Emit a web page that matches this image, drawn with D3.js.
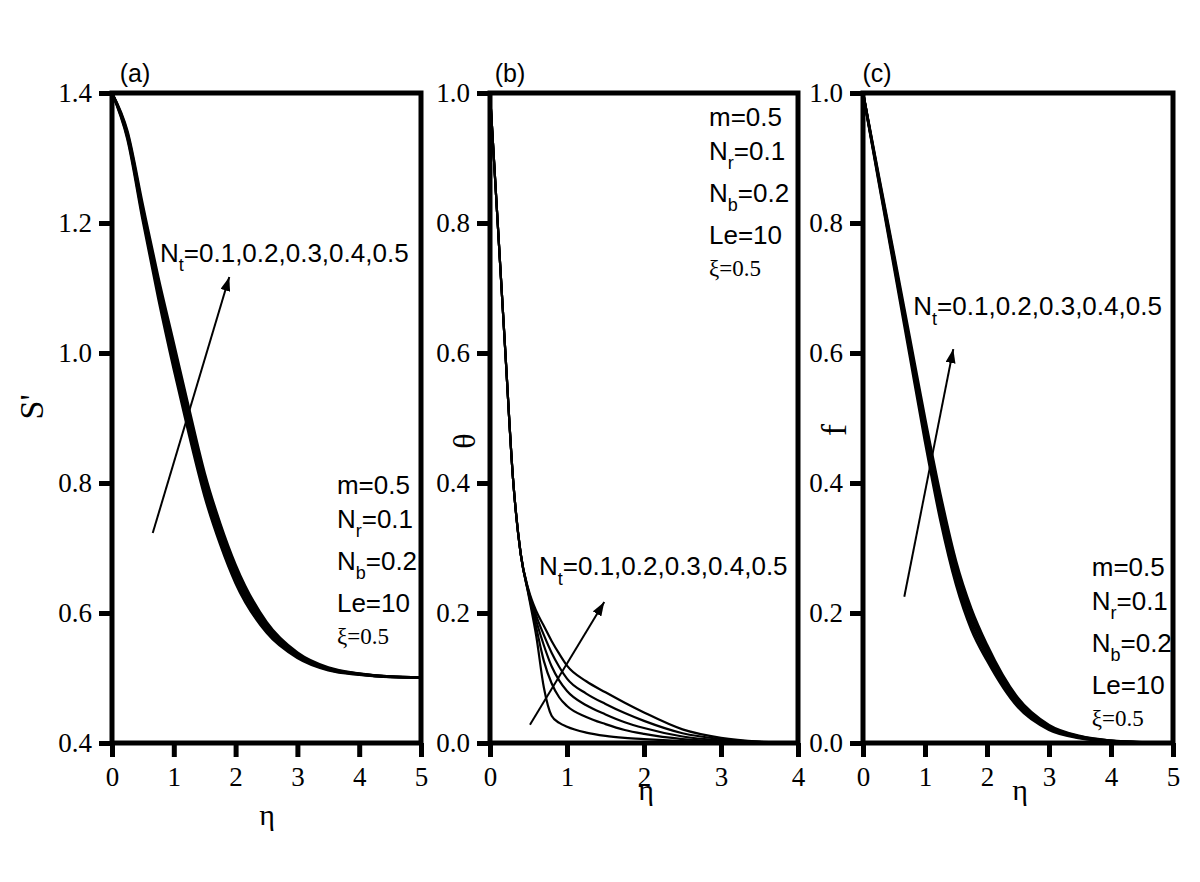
<!DOCTYPE html>
<html>
<head>
<meta charset="utf-8">
<script src="https://cdn.jsdelivr.net/npm/d3@7"></script>
<style>
  html, body { margin: 0; padding: 0; background: #fff; }
  svg { display: block; }
  .frame { fill: none; stroke: #000; stroke-width: 5; }
  .curve { fill: none; stroke: #000; }
  .serif { font-family: 'Liberation Serif', 'Times New Roman', serif; fill: #000; }
  .sans { font-family: 'Liberation Sans', Arial, sans-serif; fill: #000; }
  .pointer { stroke: #000; stroke-width: 2; }
</style>
</head>
<body>
<svg id="chart" width="1200" height="882"></svg>
<script>
// panel (a): S' against eta, one curve per Nt
const etaA = [0, 0.25, 0.5, 0.75, 1, 1.25, 1.5, 1.75, 2, 2.5, 3, 3.5, 4, 4.5, 5];
const sPrimeNt01 = [1.400, 1.329, 1.203, 1.084, 0.975, 0.873, 0.779, 0.706, 0.646, 0.570, 0.531, 0.512, 0.5050, 0.5016, 0.501];
const sPrimeNt02 = [1.400, 1.332, 1.209, 1.092, 0.985, 0.883, 0.788, 0.714, 0.653, 0.574, 0.533, 0.513, 0.5055, 0.5018, 0.501];
const sPrimeNt03 = [1.400, 1.335, 1.215, 1.100, 0.995, 0.893, 0.797, 0.722, 0.660, 0.578, 0.535, 0.514, 0.5060, 0.5020, 0.501];
const sPrimeNt04 = [1.400, 1.338, 1.221, 1.108, 1.005, 0.903, 0.806, 0.730, 0.667, 0.582, 0.537, 0.515, 0.5065, 0.5022, 0.501];
const sPrimeNt05 = [1.400, 1.341, 1.227, 1.116, 1.015, 0.913, 0.815, 0.738, 0.674, 0.586, 0.539, 0.516, 0.5070, 0.5024, 0.501];

// panel (b): theta against eta
const etaB = [0, 0.1, 0.2, 0.3, 0.4, 0.5, 0.6, 0.7, 0.8, 0.9, 1.0, 1.25, 1.5, 1.75, 2.0, 2.5, 3.0, 3.5, 4.0];
const thetaNt01 = [1, 0.80, 0.60, 0.405, 0.290, 0.228, 0.165, 0.085, 0.042, 0.031, 0.025, 0.016, 0.011, 0.008, 0.006, 0.003, 0.0013, 0.0004, 0];
const thetaNt02 = [1, 0.80, 0.60, 0.405, 0.290, 0.230, 0.178, 0.126, 0.092, 0.070, 0.057, 0.040, 0.029, 0.020, 0.014, 0.006, 0.0025, 0.0008, 0];
const thetaNt03 = [1, 0.80, 0.60, 0.405, 0.290, 0.232, 0.188, 0.150, 0.118, 0.096, 0.080, 0.058, 0.044, 0.032, 0.023, 0.010, 0.004, 0.0012, 0];
const thetaNt04 = [1, 0.80, 0.60, 0.405, 0.290, 0.234, 0.196, 0.166, 0.139, 0.117, 0.099, 0.076, 0.060, 0.046, 0.034, 0.015, 0.006, 0.0016, 0];
const thetaNt05 = [1, 0.80, 0.60, 0.405, 0.290, 0.236, 0.203, 0.180, 0.157, 0.137, 0.119, 0.095, 0.078, 0.062, 0.047, 0.021, 0.008, 0.002, 0];

// panel (c): f against eta
const etaC = [0, 0.25, 0.5, 0.75, 1, 1.25, 1.5, 1.75, 2, 2.5, 3, 3.5, 4, 4.5, 5];
const fNt01 = [1.0, 0.8650, 0.732, 0.598, 0.464, 0.342, 0.244, 0.174, 0.127, 0.0550, 0.0204, 0.0074, 0.0024, 0.0010, 0.0003];
const fNt02 = [1.0, 0.8675, 0.737, 0.605, 0.473, 0.352, 0.253, 0.182, 0.133, 0.0585, 0.0222, 0.0082, 0.0027, 0.0010, 0.0003];
const fNt03 = [1.0, 0.8700, 0.742, 0.612, 0.482, 0.362, 0.262, 0.190, 0.139, 0.0620, 0.0240, 0.0090, 0.0030, 0.0010, 0.0003];
const fNt04 = [1.0, 0.8725, 0.747, 0.619, 0.491, 0.372, 0.271, 0.198, 0.145, 0.0655, 0.0258, 0.0098, 0.0033, 0.0010, 0.0003];
const fNt05 = [1.0, 0.8750, 0.752, 0.626, 0.500, 0.382, 0.280, 0.206, 0.151, 0.0690, 0.0276, 0.0106, 0.0036, 0.0010, 0.0003];

// ticks
const yTicksA = [0.4, 0.6, 0.8, 1.0, 1.2, 1.4];
const yTicksBC = [0.0, 0.2, 0.4, 0.6, 0.8, 1.0];
const xTicksA = [0, 1, 2, 3, 4, 5];
const xTicksB = [0, 1, 2, 3, 4];
const xTicksC = [0, 1, 2, 3, 4, 5];

// annotation text
const ntLabel = '=0.1,0.2,0.3,0.4,0.5';
const paramLines = [
  { main: 'm', sub: '', rest: '=0.5' },
  { main: 'N', sub: 'r', rest: '=0.1' },
  { main: 'N', sub: 'b', rest: '=0.2' },
  { main: 'Le', sub: '', rest: '=10' },
];
const xiLabel = 'ξ=0.5';

const TOP = 93;
const BOTTOM = 743;
const PARAM_OFFSETS = [0, 34, 76, 118, 150];
const SERIF = "'Liberation Serif', 'Times New Roman', serif";

const panels = [
  {
    tag: '(a)', tagX: 135, left: 112, right: 421,
    xDomain: [0, 5], yDomain: [0.4, 1.4], xTicks: xTicksA, yTicks: yTicksA,
    eta: etaA, series: [sPrimeNt01, sPrimeNt02, sPrimeNt03, sPrimeNt04, sPrimeNt05],
    curveWidth: 2.6,
    yTitle: "S'", yTitleX: 43, yTitleY: 407, yTitleSize: 34,
    etaX: 267, etaY: 825,
    ntAt: [0.777, 1.140], arrow: [[0.659, 0.723], [1.898, 1.117]],
    paramsAt: [3.64, 0.783],
  },
  {
    tag: '(b)', tagX: 510, left: 490, right: 798,
    xDomain: [0, 4], yDomain: [0, 1], xTicks: xTicksB, yTicks: yTicksBC,
    eta: etaB, series: [thetaNt01, thetaNt02, thetaNt03, thetaNt04, thetaNt05],
    curveWidth: 2.2,
    yTitle: 'θ', yTitleX: 475, yTitleY: 441, yTitleSize: 32,
    etaX: 646, etaY: 800,
    ntAt: [0.636, 0.258], arrow: [[0.519, 0.028], [1.484, 0.217]],
    paramsAt: [2.844, 0.950],
  },
  {
    tag: '(c)', tagX: 877, left: 863, right: 1173,
    xDomain: [0, 5], yDomain: [0, 1], xTicks: xTicksC, yTicks: yTicksBC,
    eta: etaC, series: [fNt01, fNt02, fNt03, fNt04, fNt05],
    curveWidth: 2.6,
    yTitle: 'f', yTitleX: 846, yTitleY: 430, yTitleSize: 36,
    etaX: 1020, etaY: 800,
    ntAt: [0.811, 0.658], arrow: [[0.666, 0.225], [1.456, 0.606]],
    paramsAt: [3.689, 0.257],
  },
];

const svg = d3.select('#chart');

svg.append('rect')
  .attr('width', 1200)
  .attr('height', 882)
  .attr('fill', '#fff');

svg.append('defs')
  .append('marker')
  .attr('id', 'head')
  .attr('markerUnits', 'userSpaceOnUse')
  .attr('viewBox', '0 0 14 10')
  .attr('refX', 14)
  .attr('refY', 5)
  .attr('markerWidth', 14)
  .attr('markerHeight', 10)
  .attr('orient', 'auto')
  .append('path')
  .attr('d', 'M0,0 L14,5 L0,10 Z')
  .attr('fill', '#000');

// text with a subscript after the main part
const subText = (sel, main, sub, rest, size, subSize) => {
  sel.append('tspan').text(main);
  if (sub) {
    sel.append('tspan')
      .attr('font-size', subSize)
      .attr('dy', size * 0.36)
      .text(sub);
    sel.append('tspan')
      .attr('dy', -size * 0.36)
      .text(rest);
  } else {
    sel.append('tspan').text(rest);
  }
};

// thick ticks, serif labels, no domain line
const styleAxis = (a) => {
  a.attr('font-family', SERIF).attr('font-size', 27);
  a.select('.domain').remove();
  a.selectAll('.tick line')
    .attr('stroke', '#000')
    .attr('stroke-width', 5);
  a.selectAll('.tick text')
    .attr('fill', '#000')
    .style('font-family', SERIF)
    .style('font-size', '27px');
};

panels.forEach((p) => {
  const x = d3.scaleLinear().domain(p.xDomain).range([p.left, p.right]);
  const y = d3.scaleLinear().domain(p.yDomain).range([BOTTOM, TOP]);
  const g = svg.append('g');

  const line = d3.line()
    .x((d, i) => x(p.eta[i]))
    .y((d) => y(d))
    .curve(d3.curveMonotoneX);

  g.append('g')
    .selectAll('path')
    .data(p.series)
    .enter()
      .append('path')
      .classed('curve', true)
      .attr('stroke-width', p.curveWidth)
      .attr('d', line);

  g.append('g')
    .attr('transform', `translate(${p.left},0)`)
    .call(d3.axisLeft(y)
      .tickValues(p.yTicks)
      .tickSize(13)
      .tickPadding(7)
      .tickFormat(d3.format('.1f')))
    .call(styleAxis);

  g.append('g')
    .attr('transform', `translate(0,${BOTTOM})`)
    .call(d3.axisBottom(x)
      .tickValues(p.xTicks)
      .tickSize(14)
      .tickPadding(10)
      .tickFormat(d3.format('d')))
    .call(styleAxis);

  g.append('rect')
    .classed('frame', true)
    .attr('x', p.left)
    .attr('y', TOP)
    .attr('width', p.right - p.left)
    .attr('height', BOTTOM - TOP);

  g.append('text')
    .classed('sans', true)
    .attr('x', p.tagX)
    .attr('y', 82)
    .attr('text-anchor', 'middle')
    .attr('font-size', 25)
    .text(p.tag);

  g.append('text')
    .classed('serif', true)
    .attr('transform', `translate(${p.yTitleX},${p.yTitleY}) rotate(-90)`)
    .attr('text-anchor', 'middle')
    .attr('font-size', p.yTitleSize)
    .text(p.yTitle);

  g.append('text')
    .classed('serif', true)
    .attr('x', p.etaX)
    .attr('y', p.etaY)
    .attr('text-anchor', 'middle')
    .attr('font-size', 30)
    .text('η');

  g.append('line')
    .classed('pointer', true)
    .attr('x1', x(p.arrow[0][0]))
    .attr('y1', y(p.arrow[0][1]))
    .attr('x2', x(p.arrow[1][0]))
    .attr('y2', y(p.arrow[1][1]))
    .attr('marker-end', 'url(#head)');

  g.append('text')
    .classed('sans', true)
    .attr('x', x(p.ntAt[0]))
    .attr('y', y(p.ntAt[1]))
    .attr('font-size', 26)
    .call((t) => subText(t, 'N', 't', ntLabel, 26, 18));

  const px = x(p.paramsAt[0]);
  const py = y(p.paramsAt[1]);
  paramLines.forEach((d, i) => {
    g.append('text')
      .classed('sans', true)
      .attr('x', px)
      .attr('y', py + PARAM_OFFSETS[i])
      .attr('font-size', 26)
      .call((t) => subText(t, d.main, d.sub, d.rest, 26, 18));
  });

  g.append('text')
    .classed('serif', true)
    .attr('x', px)
    .attr('y', py + PARAM_OFFSETS[4])
    .attr('font-size', 23)
    .text(xiLabel);
});
</script>
</body>
</html>
